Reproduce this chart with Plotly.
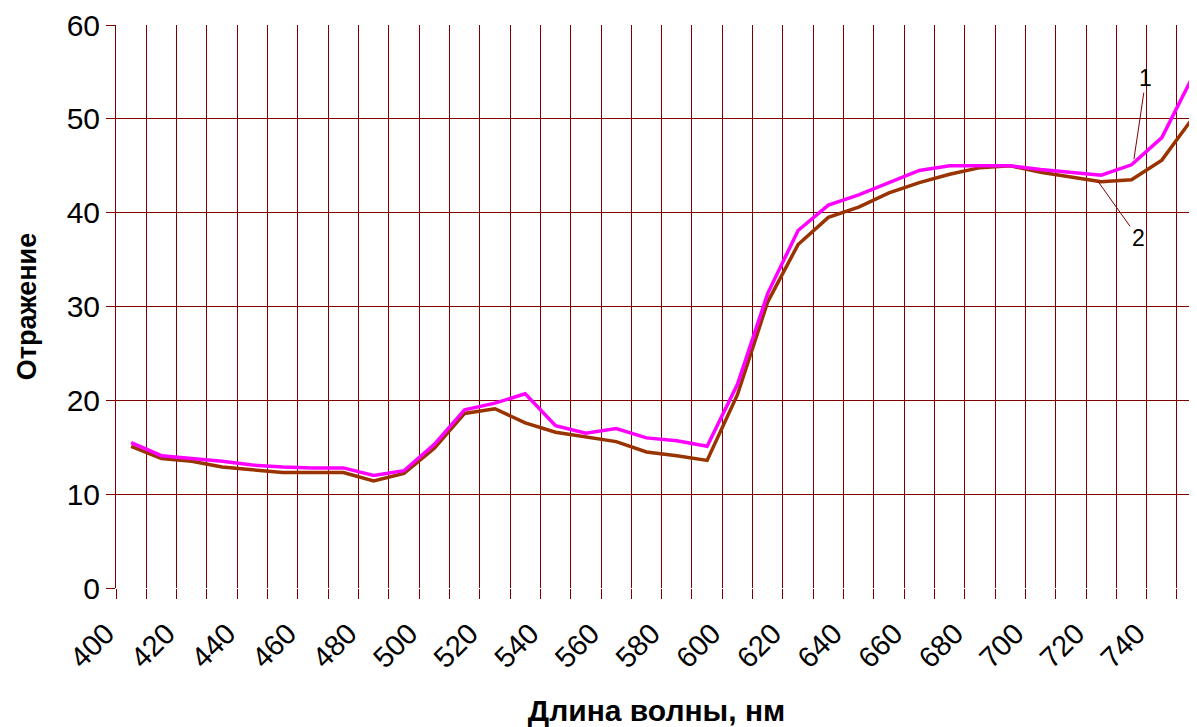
import plotly.graph_objects as go

# Data (wavelength categories, nm)
wavelengths = list(range(400, 760, 10))
series1 = [15.5, 14.1, 13.8, 13.5, 13.1, 12.9, 12.8, 12.8, 12.0, 12.5,
           15.3, 19.0, 19.7, 20.7, 17.3, 16.5, 17.0, 16.0, 15.7, 15.1,
           21.7, 31.4, 38.1, 40.8, 41.9, 43.2, 44.5, 45.0, 45.0, 45.0,
           44.6, 44.3, 44.0, 45.1, 48.0, 54.4]
series2 = [15.1, 13.8, 13.5, 12.9, 12.6, 12.3, 12.3, 12.3, 11.4, 12.2,
           14.9, 18.6, 19.1, 17.6, 16.6, 16.1, 15.6, 14.5, 14.1, 13.6,
           20.6, 30.5, 36.6, 39.5, 40.6, 42.1, 43.2, 44.1, 44.8, 45.0,
           44.3, 43.8, 43.3, 43.5, 45.6, 50.0]
label_values = list(range(400, 760, 20))
y_ticks = [0, 10, 20, 30, 40, 50, 60]

GRID = "#800000"
FONT = "Liberation Sans, Arial, sans-serif"

# category boundaries (Excel-like category axis: points centred between gridlines)
half = 5
tickvals = [w - half for w in wavelengths]
ticktext = [str(w) if w in label_values else "" for w in wavelengths]

fig = go.Figure()
fig.add_trace(go.Scatter(x=wavelengths, y=series2, mode="lines",
                         line=dict(color="#993300", width=3.5), name="2"))
fig.add_trace(go.Scatter(x=wavelengths, y=series1, mode="lines",
                         line=dict(color="#FF00FF", width=3.5), name="1"))

i1 = wavelengths.index(730)
i2 = wavelengths.index(720)
fig.add_annotation(x=wavelengths[i1] + 0.8, y=series1[i1] + 0.6, text="1",
                   showarrow=True, arrowhead=0, arrowwidth=1, arrowcolor=GRID,
                   ax=12, ay=-81, font=dict(family=FONT, size=23, color="black"))
fig.add_annotation(x=wavelengths[i2] - 1, y=series2[i2], text="2",
                   showarrow=True, arrowhead=0, arrowwidth=1, arrowcolor=GRID,
                   ax=40, ay=56, font=dict(family=FONT, size=23, color="black"))

fig.update_layout(
    width=1189, height=719,
    margin=dict(l=108, r=0, t=17, b=139, autoexpand=False),
    paper_bgcolor="white", plot_bgcolor="white",
    showlegend=False,
    font=dict(family=FONT, size=30, color="black"),
    xaxis=dict(
        range=[395, 751.6], automargin=False,
        tickmode="array", tickvals=tickvals, ticktext=ticktext,
        tickangle=-45,
        ticklabelshift=-10, ticklabelstandoff=6,
        showgrid=True, gridcolor=GRID, gridwidth=1,
        ticks="outside", ticklen=10, tickcolor=GRID,
        showline=False, zeroline=False,
        tickfont=dict(family=FONT, size=29, color="black"),
        title=dict(text="<b>Длина волны, нм</b>",
                   font=dict(family=FONT, size=30, color="black"),
                   standoff=34),
    ),
    yaxis=dict(
        range=[0, 60], tickvals=y_ticks, automargin=False,
        showgrid=True, gridcolor=GRID, gridwidth=1,
        ticks="outside", ticklen=9, tickcolor=GRID,
        showline=True, linecolor=GRID, linewidth=1,
        zeroline=False,
        tickfont=dict(family=FONT, size=30, color="black"),
        title=dict(text="<b>Отражение</b>",
                   font=dict(family=FONT, size=27, color="black"),
                   standoff=22),
    ),
)

fig.write_html("out.html")
